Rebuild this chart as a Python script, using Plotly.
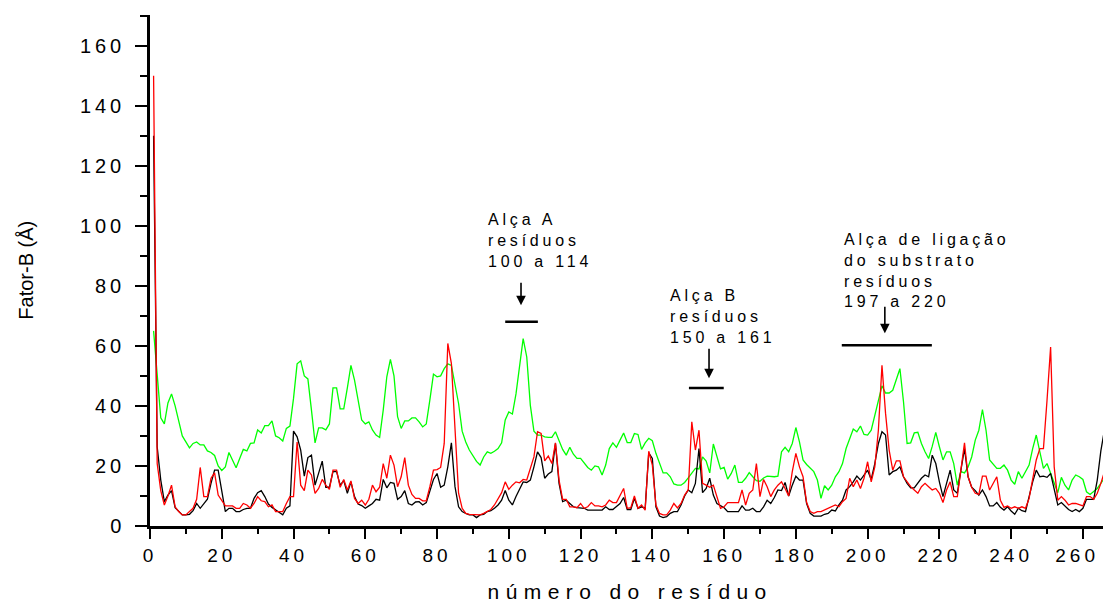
import plotly.graph_objects as go

residues = list(range(1, 267))

bfactor_green = [
    65, 50, 36, 34, 41, 44, 40, 35, 30, 28,
    26, 27.5, 28, 27, 27, 25, 24.5, 23.5, 20, 18.5,
    19.7, 24.5, 22, 19.4, 22.5, 25.5, 25, 27.5, 27.7, 32,
    31, 33.4, 33.4, 35, 30, 29.4, 28.3, 32.5, 33.3, 42.5,
    54, 55, 50, 49, 38.6, 27.7, 32.7, 32.7, 32, 34,
    46, 46, 39, 39, 46, 53.5, 48.6, 41.4, 35.3, 34,
    34.7, 32, 30.3, 29.5, 38.6, 49.7, 55.5, 50, 36.4, 32.5,
    35, 35, 36, 36, 34.7, 33, 34, 42, 50.6, 49.7,
    50, 52.4, 54, 53.5, 47.5, 40.8, 31.6, 28, 25.3, 23.5,
    21.5, 20.3, 23, 24.7, 24.2, 24.9, 25.8, 27.7, 35.3, 38,
    37.3, 44, 53.5, 62.4, 56.3, 40.2, 31.6, 30.3, 30.3, 29.7,
    29.5, 29.5, 31.4, 28.6, 25.5, 23.6, 26.2, 23.9, 22.5, 22.5,
    21, 19.5, 18.6, 20, 19.7, 17, 20.3, 25.8, 27.7, 26.2,
    28.6, 31, 27.8, 27.8, 30.8, 30.5, 25.5, 27.7, 29.2, 28.4,
    24.2, 20.8, 17.7, 17.7, 16.4, 14, 13.6, 13.6, 14.5, 16,
    17.7, 19.2, 19, 23, 21.6, 17.7, 27.3, 23, 19, 19.5,
    15.6, 17.5, 20.3, 14.5, 14.5, 15.9, 17.8, 16.4, 15.1, 14.9,
    16, 16.6, 16.5, 16.4, 16.6, 24.7, 26.2, 24.7, 27.5, 32.8,
    28, 22, 20.5, 19.4, 18.1, 15.3, 9.2, 13.4, 12, 13.6,
    16.4, 18.1, 20.8, 25.8, 29.2, 32.3, 31.4, 33.3, 30.5, 30.3,
    31.9, 36.7, 41.9, 46.7, 44.3, 44.3, 45.2, 48.6, 52.4, 41.4,
    27.5, 27.7, 31, 31.2, 27.5, 24.7, 22.5, 26.5, 31.2, 26.4,
    22, 24.7, 24.7, 20.8, 13.6, 18.1, 17.7, 19.7, 23, 28.6,
    31.9, 38.8, 31.9, 22, 20.5, 19.2, 19.2, 20.3, 18.6, 15.3,
    13.9, 18.1, 15.9, 18.3, 20.3, 25.8, 30.3, 24.7, 19.2, 20.8,
    17.5, 14.2, 11.1, 16.2, 13.6, 12, 15.3, 17, 16.4, 15.5,
    11.4, 10.5, 11.4, 12.5, 14.2, 16,
]

bfactor_black = [
    130, 26.4, 15.3, 8.1, 10.3, 11.8, 6.1, 4.8, 3.7, 3.7,
    3.9, 5.1, 7.5, 5.9, 7.5, 8.9, 14.2, 18.6, 18.6, 12,
    4.8, 5.9, 5.9, 4.8, 4.8, 5.5, 5.9, 5.9, 9.2, 11.1,
    11.8, 9.8, 7.3, 6.2, 5.3, 4.5, 3.7, 5.9, 6.7, 31.6,
    29.7, 25.3, 16.6, 22.8, 23.6, 13.6, 17.7, 21.6, 12.9, 12.9,
    18.1, 18.1, 13.6, 15.1, 10.9, 14.7, 9.8, 7.3, 6.8, 5.9,
    6.7, 7.5, 8.9, 8.6, 15.5, 12.7, 14.5, 14.2, 8.9, 9.8,
    11.8, 7.5, 7, 8, 8.1, 7, 7.8, 12, 15.5, 17.5,
    12.9, 13.6, 19.7, 27.7, 13.1, 6.4, 4.8, 4.2, 3.7, 3.7,
    2.8, 3.7, 3.9, 4.8, 5.1, 5.9, 7, 8.6, 11.8, 8.6,
    7, 9.8, 12, 14.7, 14.5, 15.3, 19.7, 24.7, 22.8, 15.9,
    17.3, 18.1, 27.5, 14.2, 8.1, 8.6, 7.5, 6.4, 6.1, 5.9,
    5.9, 5.3, 5.3, 5.3, 5.3, 5.3, 6.4, 5.5, 5.5, 6.4,
    7.5, 9.5, 5.5, 5.5, 9.2, 5.9, 6.4, 5.9, 24.4, 22.5,
    6.4, 3.3, 2.8, 3.1, 4.2, 4.8, 4.8, 7, 10, 12,
    11.1, 14.2, 25.8, 11.1, 12.5, 15.9, 10.3, 7.5, 6.7, 6.1,
    4.8, 4.8, 4.8, 4.8, 6.7, 5.3, 5.3, 5.9, 4.8, 4.8,
    6.4, 8.6, 7.5, 9.5, 12, 11.8, 14.5, 10, 13.6, 16.6,
    15.3, 15.3, 7.5, 4.2, 3.3, 3.3, 3.3, 3.9, 4.2, 5.3,
    5, 7, 8.6, 12, 13.1, 14.7, 16.6, 15.3, 17, 18.6,
    15.5, 20.8, 27.5, 31.4, 30.3, 17, 18.1, 18.6, 19.7, 16.4,
    14.2, 12.7, 12.7, 14.2, 15.9, 17, 16.4, 23.6, 20.8, 14.7,
    9.8, 14.2, 18.6, 12, 10.9, 18.6, 25.8, 16.4, 12.9, 11.8,
    10.3, 12, 9.8, 6.7, 6.7, 7.8, 6.2, 5.3, 6.4, 5,
    3.9, 5.9, 5.1, 4.8, 10.3, 14.7, 18.6, 16.4, 16.6, 16.2,
    17.5, 12.5, 7, 7.8, 6.7, 5.5, 4.8, 5.5, 4.8, 5.9,
    8.9, 8.9, 8.9, 15.3, 25, 32,
]

bfactor_red = [
    150, 20.8, 11.8, 7, 10, 13.6, 6.4, 4.8, 3.7, 3.7,
    4.8, 5.9, 8.9, 19.5, 9.8, 9.8, 15.9, 17.7, 10.3, 8.4,
    6.7, 6.7, 6.7, 5.9, 5.9, 7.5, 7, 5.9, 7.5, 9.8,
    8.4, 8.1, 6.4, 7, 4.8, 4.8, 4.8, 7.5, 9.8, 9.8,
    28, 13.6, 11.8, 18.6, 17, 10.9, 12.5, 15.5, 13.6, 12.2,
    18.6, 18.6, 12.9, 15.5, 12, 15, 9.2, 7.5, 8.6, 7,
    8.9, 13.6, 11.4, 12.9, 20.8, 15.9, 23.6, 20.3, 13.1, 16.4,
    22.8, 13.6, 10.5, 9.2, 9.2, 8.4, 8.4, 13.1, 18.6, 18.8,
    19.5, 27.5, 60.8, 54.1, 33, 10.9, 5.9, 4.2, 3.9, 3.9,
    3.7, 3.7, 4.2, 4.8, 5.5, 7, 9.2, 11.1, 14.7, 12.2,
    13.6, 14.7, 14.4, 15.5, 15.3, 19.2, 23, 31.4, 30.8, 21.7,
    23.3, 20.8, 27.7, 15.3, 8.9, 8.9, 6.4, 6.4, 6.1, 7.5,
    5.9, 6.4, 7.8, 6.7, 6.7, 6.4, 7, 8.6, 7.8, 7.8,
    10, 12.5, 5.9, 6.1, 10, 5.9, 7, 5.3, 24.9, 20.3,
    7, 4.2, 3.7, 3.7, 5.3, 7.5, 6, 7.5, 10.3, 12,
    34.7, 25.3, 31.9, 14.2, 13.6, 12.9, 13.6, 9.8, 5.9, 6.4,
    7.8, 7.8, 7.8, 7.8, 12, 7, 10.9, 12, 20.8, 9.8,
    15.5, 13.1, 9.8, 12, 13.6, 14.7, 12.5, 10, 18.1, 24.2,
    19.7, 16.4, 7.8, 4.8, 4.2, 4.8, 4.8, 5.3, 5.9, 6.4,
    7, 6.4, 8.1, 9.2, 15.9, 13.1, 15.3, 12.5, 15.9, 21.4,
    14.7, 19.7, 31.9, 53.5, 37.5, 25.3, 18.6, 21.7, 21.7, 16.4,
    14.7, 13.1, 12, 10.9, 13.1, 14.2, 13.1, 12, 12.5, 10.9,
    7.8, 12, 14.7, 9.8, 9.8, 19.7, 27.7, 16.4, 12.9, 10.9,
    10.5, 16.6, 16.6, 12, 14.2, 16.4, 8.6, 6.2, 6.7, 5.9,
    6.4, 5.9, 6.4, 5.9, 9.2, 15.9, 22, 25.8, 25.8, 41.9,
    59.6, 19.7, 8.6, 9.8, 8.6, 7, 7.5, 7.5, 7, 6.7,
    9.8, 9.8, 8.9, 10.9, 14.2, 18,
]

x_ticks = list(range(0, 261, 20))
y_ticks = list(range(0, 161, 20))

# loop annotations
loop_labels = ["Alça A<br>resíduos<br>100 a 114",
               "Alça B<br>resíduos<br>150 a 161",
               "Alça de ligação<br>do substrato<br>resíduos<br>197 a 220"]
label_x = [93.6, 144.3, 192.8]
label_y = [105.5, 80.3, 99.0]
arrow_x = [103.4, 155.8, 204.8]
arrow_y = [73.5, 49.2, 64.2]
arrow_len = [24, 31, 28]
bar_x0 = [99.0, 150.2, 192.8]
bar_x1 = [108.1, 159.9, 217.9]
bar_y = [68.0, 46.0, 60.2]

fig = go.Figure()
fig.add_trace(go.Scatter(x=residues, y=bfactor_green, mode="lines",
                         line=dict(color="#00ff00", width=1.3), showlegend=False))
fig.add_trace(go.Scatter(x=residues, y=bfactor_black, mode="lines",
                         line=dict(color="#000000", width=1.3), showlegend=False))
fig.add_trace(go.Scatter(x=residues, y=bfactor_red, mode="lines",
                         line=dict(color="#ff0000", width=1.3), showlegend=False))

annotations = []
shapes = []
for i in range(len(loop_labels)):
    annotations.append(dict(x=label_x[i], y=label_y[i], xref="x", yref="y",
                            text=loop_labels[i], showarrow=False,
                            xanchor="left", yanchor="top", align="left",
                            font=dict(family="Liberation Sans, Arial", size=16, color="black")))
    annotations.append(dict(x=arrow_x[i], y=arrow_y[i], xref="x", yref="y",
                            text="", showarrow=True, ax=0, ay=-arrow_len[i],
                            arrowhead=2, arrowsize=1.2, arrowwidth=1.6,
                            arrowcolor="black", standoff=0))
    shapes.append(dict(type="line", xref="x", yref="y",
                       x0=bar_x0[i], x1=bar_x1[i], y0=bar_y[i], y1=bar_y[i],
                       line=dict(color="black", width=2.5)))

annotations.append(dict(x=0.5037, y=0, xref="paper", yref="paper", yshift=-65,
                        text="número do resíduo", showarrow=False,
                        xanchor="center", yanchor="middle",
                        font=dict(family="Liberation Sans, Arial", size=21, color="black")))
annotations.append(dict(x=-0.131, y=0.5, xref="paper", yref="paper",
                        text="Fator-B (Å)", showarrow=False, textangle=-90,
                        xanchor="center", yanchor="middle",
                        font=dict(family="Liberation Sans, Arial", size=20, color="black")))

fig.update_layout(
    width=1103, height=602,
    margin=dict(l=150, r=0, t=15, b=76),
    paper_bgcolor="white", plot_bgcolor="white",
    annotations=annotations, shapes=shapes,
    font=dict(family="Liberation Sans, Arial", color="black"),
)
fig.update_xaxes(range=[0, 265.6], tickvals=x_ticks, ticks="outside", ticklen=10,
                 tickwidth=2, tickcolor="black", showline=True, linewidth=2.5,
                 linecolor="black", showgrid=False, zeroline=False,
                 tickfont=dict(size=19, family="Liberation Sans, Arial"),
                 minor=dict(dtick=10, tick0=0, ticks="outside", ticklen=5,
                            tickwidth=2, tickcolor="black"))
fig.update_yaxes(range=[0, 170.2], tickvals=y_ticks, ticks="outside", ticklen=12,
                 tickwidth=2, tickcolor="black", showline=True, linewidth=2.5,
                 linecolor="black", showgrid=False, zeroline=False,
                 tickfont=dict(size=20, family="Liberation Sans, Arial"),
                 ticklabelstandoff=6,
                 minor=dict(dtick=10, tick0=0, ticks="outside", ticklen=7,
                            tickwidth=2, tickcolor="black"))

post = """
document.body.style.margin = '0';
document.body.style.padding = '0';
document.body.style.overflow = 'hidden';
var gd = document.getElementById('{plot_id}');
function spacing(){
  gd.querySelectorAll('.xtick text').forEach(function(e){
    e.style.letterSpacing='4px';
    var b = e.getBoundingClientRect();
    var lim = gd.getBoundingClientRect().right - 4;
    if (b.right > lim) { e.setAttribute('dx', String(-(b.right - lim))); }
  });
  gd.querySelectorAll('.ytick text').forEach(function(e){e.style.letterSpacing='4px';});
  gd.querySelectorAll('.annotation-text').forEach(function(e){
    var t = e.textContent;
    if (t.indexOf('número') >= 0) { e.style.letterSpacing='6.4px'; }
    else if (t.indexOf('Fator') >= 0) { e.style.letterSpacing='0px'; }
    else { e.style.letterSpacing='3.8px'; }
  });
}
spacing();
"""
fig.write_html("out.html", post_script=post, config={"displayModeBar": False})
